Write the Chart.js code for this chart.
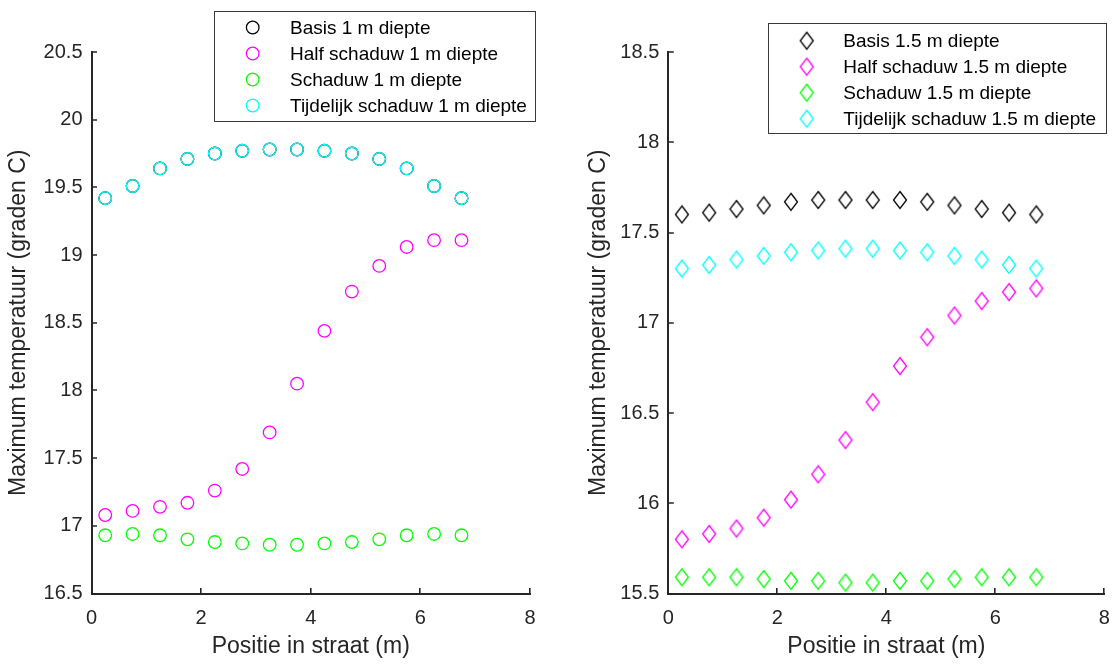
<!DOCTYPE html>
<html><head><meta charset="utf-8">
<script src="https://cdn.jsdelivr.net/npm/chart.js@4.4.1/dist/chart.umd.min.js"></script>
<style>
html,body{margin:0;padding:0;background:#fff;}
#wrap{position:relative;width:1112px;height:664px;overflow:hidden;background:#fff;}
#c1{position:absolute;left:0;top:0;width:580px;height:664px;}
#c2{position:absolute;left:580px;top:0;width:532px;height:664px;}
</style></head><body>
<div id="wrap"><canvas id="c1" width="580" height="664"></canvas><canvas id="c2" width="532" height="664"></canvas></div>
<script>
// ---- data ----
const positions = [0.25, 0.75, 1.25, 1.75, 2.25, 2.75, 3.25, 3.75, 4.25, 4.75, 5.25, 5.75, 6.25, 6.75];

const basis1m     = [19.42, 19.51, 19.64, 19.71, 19.75, 19.77, 19.78, 19.78, 19.77, 19.75, 19.71, 19.64, 19.51, 19.42];
const half1m      = [17.08, 17.11, 17.14, 17.17, 17.26, 17.42, 17.69, 18.05, 18.44, 18.73, 18.92, 19.06, 19.11, 19.11];
const schaduw1m   = [16.93, 16.94, 16.93, 16.90, 16.88, 16.87, 16.86, 16.86, 16.87, 16.88, 16.90, 16.93, 16.94, 16.93];
const tijdelijk1m = [19.42, 19.51, 19.64, 19.71, 19.75, 19.77, 19.78, 19.78, 19.77, 19.75, 19.71, 19.64, 19.51, 19.42];

const basis15m     = [17.60, 17.61, 17.63, 17.65, 17.67, 17.68, 17.68, 17.68, 17.68, 17.67, 17.65, 17.63, 17.61, 17.60];
const half15m      = [15.80, 15.83, 15.86, 15.92, 16.02, 16.16, 16.35, 16.56, 16.76, 16.92, 17.04, 17.12, 17.17, 17.19];
const schaduw15m   = [15.59, 15.59, 15.59, 15.58, 15.57, 15.57, 15.56, 15.56, 15.57, 15.57, 15.58, 15.59, 15.59, 15.59];
const tijdelijk15m = [17.30, 17.32, 17.35, 17.37, 17.39, 17.40, 17.41, 17.41, 17.40, 17.39, 17.37, 17.35, 17.32, 17.30];

const labels1m  = ['Basis 1 m diepte', 'Half schaduw 1 m diepte', 'Schaduw 1 m diepte', 'Tijdelijk schaduw 1 m diepte'];
const labels15m = ['Basis 1.5 m diepte', 'Half schaduw 1.5 m diepte', 'Schaduw 1.5 m diepte', 'Tijdelijk schaduw 1.5 m diepte'];

const xTicks       = [0, 2, 4, 6, 8];
const yTicksLeft   = [16.5, 17, 17.5, 18, 18.5, 19, 19.5, 20, 20.5];
const yTicksRight  = [15.5, 16, 16.5, 17, 17.5, 18, 18.5];

const xTitle = 'Positie in straat (m)';
const yTitle = 'Maximum temperatuur (graden C)';

// ---- styling ----
const FAMILY = "'Liberation Sans', Arial, Helvetica, sans-serif";
const AXIS = '#262626';
const COLORS = ['#000000', '#FF00FF', '#00FF00', '#00FFFF'];

function diamond(color) {
  const c = document.createElement('canvas');
  c.width = 16; c.height = 20;
  const g = c.getContext('2d');
  g.strokeStyle = color; g.lineWidth = 1.3;
  g.beginPath();
  g.moveTo(8, 1.5); g.lineTo(14.5, 10); g.lineTo(8, 18.5); g.lineTo(1.5, 10); g.closePath();
  g.stroke();
  return c;
}

const tickPlugin = {
  id: 'innerTicks',
  afterDraw(chart) {
    const ctx = chart.ctx, a = chart.chartArea;
    const xs = chart.scales.x, ys = chart.scales.y;
    ctx.save();
    ctx.strokeStyle = AXIS; ctx.lineWidth = 1.6;
    ctx.beginPath();
    xs.ticks.forEach(t => {
      const px = Math.round(xs.getPixelForValue(t.value)) - 0.2;
      ctx.moveTo(px, a.bottom); ctx.lineTo(px, a.bottom - 5.5);
    });
    ys.ticks.forEach(t => {
      const py = Math.round(ys.getPixelForValue(t.value));
      ctx.moveTo(a.left, py); ctx.lineTo(a.left + 5.5, py);
    });
    ctx.stroke();
    ctx.restore();
  }
};

const boxLegend = {
  id: 'boxLegend',
  afterDraw(chart, args, o) {
    const ctx = chart.ctx;
    ctx.save();
    ctx.fillStyle = '#ffffff';
    ctx.fillRect(o.x, o.y, o.w, o.h);
    ctx.strokeStyle = '#3a3a3a'; ctx.lineWidth = 1;
    ctx.strokeRect(o.x + 0.5, o.y + 0.5, o.w, o.h);
    ctx.font = '19px ' + FAMILY;
    ctx.textBaseline = 'middle';
    ctx.textAlign = 'left';
    chart.data.datasets.forEach((ds, i) => {
      const y = o.rowY + i * o.rowGap;
      if (ds.pointStyle === 'circle') {
        ctx.strokeStyle = ds.borderColor; ctx.lineWidth = ds.borderWidth;
        ctx.beginPath(); ctx.arc(o.markerX, y, ds.pointRadius, 0, Math.PI * 2); ctx.stroke();
      } else {
        const im = ds.pointStyle;
        ctx.drawImage(im, o.markerX - im.width / 2, y - im.height / 2);
      }
      ctx.fillStyle = '#000000';
      ctx.fillText(ds.label, o.textX, y + 1);
    });
    ctx.restore();
  }
};

function makeDatasets(series, labels, style) {
  return series.map((vals, i) => ({
    label: labels[i],
    data: positions.map((x, k) => ({ x: x, y: vals[k] })),
    pointStyle: style === 'circle' ? 'circle' : diamond(COLORS[i]),
    pointRadius: 6.3,
    borderColor: COLORS[i],
    backgroundColor: 'rgba(0,0,0,0)',
    borderWidth: 1.3,
    showLine: false,
    order: 4 - i
  }));
}

function makeChart(canvas, datasets, yTicks, padRight, yWidth, legendOpts) {
  return new Chart(canvas, {
    type: 'scatter',
    data: { datasets: datasets },
    plugins: [tickPlugin, boxLegend],
    options: {
      responsive: false,
      animation: false,
      events: [],
      layout: { padding: { left: 0, right: padRight, top: 52, bottom: 0 } },
      plugins: {
        legend: { display: false },
        tooltip: { enabled: false },
        boxLegend: legendOpts
      },
      scales: {
        x: {
          type: 'linear', min: xTicks[0], max: xTicks[xTicks.length - 1],
          afterBuildTicks: s => { s.ticks = xTicks.map(v => ({ value: v })); },
          afterFit: s => { s.height = 70.5; s.paddingLeft = 0; s.paddingRight = 0; },
          grid: { display: false, drawTicks: false },
          border: { display: true, color: AXIS, width: 2 },
          ticks: { color: AXIS, padding: 13, maxRotation: 0, autoSkip: false,
                   font: { size: 20, family: FAMILY }, callback: v => String(v) },
          title: { display: true, text: xTitle, color: AXIS,
                   font: { size: 23, family: FAMILY }, padding: { top: 0, bottom: 4 } }
        },
        y: {
          type: 'linear', min: yTicks[0], max: yTicks[yTicks.length - 1],
          afterBuildTicks: s => { s.ticks = yTicks.map(v => ({ value: v })); },
          afterFit: s => { s.width = yWidth; s.paddingTop = 0; s.paddingBottom = 0; },
          grid: { display: false, drawTicks: false },
          border: { display: true, color: AXIS, width: 2 },
          ticks: { color: AXIS, padding: 9, autoSkip: false,
                   font: { size: 20, family: FAMILY }, callback: v => String(v) },
          title: { display: true, text: yTitle, color: AXIS,
                   font: { size: 23, family: FAMILY }, padding: { top: 5, bottom: 0 } }
        }
      }
    }
  });
}

makeChart(document.getElementById('c1'),
  makeDatasets([basis1m, half1m, schaduw1m, tijdelijk1m], labels1m, 'circle'),
  yTicksLeft, 50, 91.5,
  { x: 214, y: 11, w: 321, h: 110, markerX: 252.7, textX: 290, rowY: 27.5, rowGap: 26 });

makeChart(document.getElementById('c2'),
  makeDatasets([basis15m, half15m, schaduw15m, tijdelijk15m], labels15m, 'diamond'),
  yTicksRight, 4.3, 88.3,
  { x: 188, y: 23, w: 338, h: 110, markerX: 226.7, textX: 263.3, rowY: 40.7, rowGap: 26 });
</script>
</body></html>
